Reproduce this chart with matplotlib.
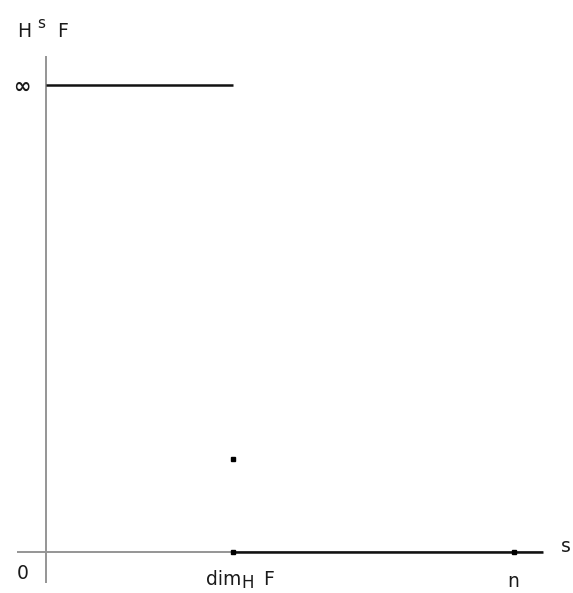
import matplotlib
matplotlib.use("Agg")
import matplotlib.pyplot as plt

# data (s-values and H^s F levels; "infinity" drawn at level 1)
dim_h = 1.0
n_val = 2.5
inf_level = 1.0
point_level = 0.2
upper_segment_s = [0.0, dim_h]
upper_segment_h = [inf_level, inf_level]
lower_segment_s = [dim_h, 2.658]
lower_segment_h = [0.0, 0.0]
dot_s = [dim_h, dim_h, n_val]
dot_h = [point_level, 0.0, 0.0]

W, H = 573, 593
fig = plt.figure(figsize=(W / 100, H / 100), dpi=100)
ax = fig.add_axes([0, 0, 1, 1])
sx = 187.0  # pixels per unit s
sy = 467.0  # pixels per unit level
ax.set_xlim(-46 / sx, (W - 46) / sx)
ax.set_ylim(-(H - 552) / sy, 552 / sy)
ax.axis("off")

axis_col = "#959595"
# axes
ax.plot([-29 / sx, 497 / sx], [0, 0], color=axis_col, lw=1.4, solid_capstyle="butt")
ax.plot([0, 0], [-31 / sy, 496 / sy], color=axis_col, lw=1.4, solid_capstyle="butt")

# function graph
ax.plot(upper_segment_s, upper_segment_h, color="#111111", lw=1.8, solid_capstyle="butt")
ax.plot(lower_segment_s, lower_segment_h, color="#111111", lw=1.8, solid_capstyle="butt")
ax.plot(dot_s, dot_h, linestyle="none", marker="s", ms=3, color="black")

font = "DejaVu Sans"
fs = 13.5
col = "#1a1a1a"

def px(x, y):
    return x / W, 1 - y / H

def t(x, y, s, size=fs, ha="left", va="baseline", weight="normal"):
    fig.text(*px(x, y), s, fontsize=size, family=font, color=col, ha=ha, va=va,
             fontweight=weight)

t(17, 37, "H")
t(37, 28, "s", size=11)
t(57, 37, "F")
t(22, 85, "\u221e", size=15, ha="center", va="center_baseline", weight="bold")
t(17, 579, "0")
t(206, 585, "dim")
t(241, 588, "H", size=12)
t(263, 585, "F")
t(513, 587, "n", ha="center")
t(561, 552, "s")

fig.savefig("out.png", dpi=100)
